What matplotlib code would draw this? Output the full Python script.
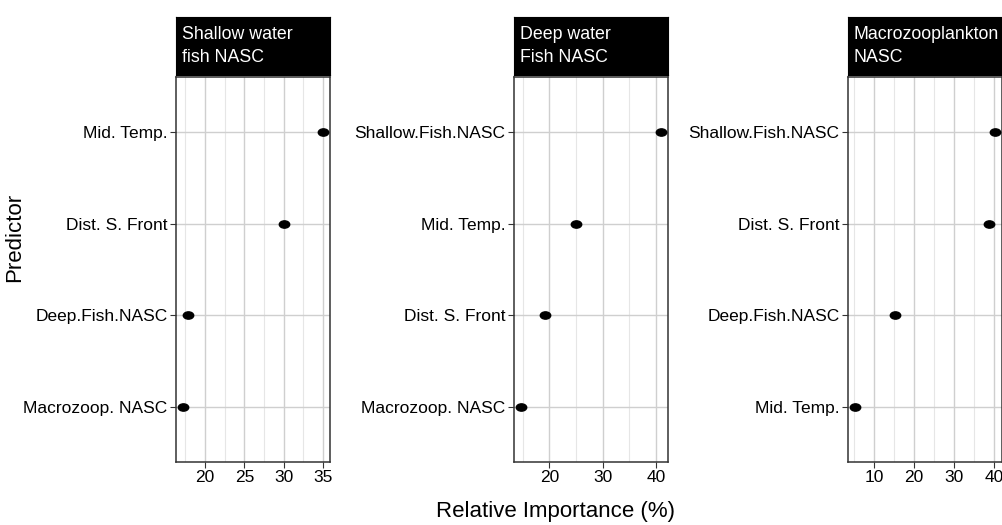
import numpy as np
import matplotlib.pyplot as plt
from matplotlib.path import Path
from matplotlib.transforms import Affine2D
from matplotlib.ticker import MultipleLocator

plt.rcParams['font.family'] = ['Liberation Sans', 'DejaVu Sans']

# data: one list of predictors and importances per response (top -> bottom)
titles = ["Shallow water\nfish NASC", "Deep water\nFish NASC", "Macrozooplankton\nNASC"]

pred_shallow = ["Mid. Temp.", "Dist. S. Front", "Deep.Fish.NASC", "Macrozoop. NASC"]
imp_shallow = [35.0, 30.0, 17.8, 17.2]

pred_deep = ["Shallow.Fish.NASC", "Mid. Temp.", "Dist. S. Front", "Macrozoop. NASC"]
imp_deep = [40.9, 24.9, 19.2, 14.7]

pred_macro = ["Shallow.Fish.NASC", "Dist. S. Front", "Deep.Fish.NASC", "Mid. Temp."]
imp_macro = [40.3, 38.7, 15.3, 5.2]

panels = [(pred_shallow, imp_shallow, 5), (pred_deep, imp_deep, 10), (pred_macro, imp_macro, 10)]

# slightly flattened dot, like in the original
circ = Path.unit_circle()
ellipse = circ.transformed(Affine2D().scale(1.0, 0.7))

fig = plt.figure(figsize=(10.03, 5.25), dpi=100)
lefts = [176, 514, 848]
width = 154
bottom, top = 462, 77
W, H = 1003, 525

for left, title, (preds, imps, step) in zip(lefts, titles, panels):
    ax = fig.add_axes([left / W, 1 - bottom / H, width / W, (bottom - top) / H])
    n = len(preds)
    ypos = np.arange(n)[::-1] + 1
    ax.plot(imps, ypos, linestyle='none', marker=ellipse, color='black', markersize=7.5, zorder=3)
    ax.set_ylim(0.4, n + 0.6)
    ax.set_yticks(ypos)
    ax.set_yticklabels(preds, fontsize=12.5)
    lo, hi = min(imps), max(imps)
    pad = (hi - lo) * 0.05
    ax.set_xlim(lo - pad, hi + pad)
    ax.xaxis.set_major_locator(MultipleLocator(step))
    ax.xaxis.set_minor_locator(MultipleLocator(step / 2))
    ax.grid(True, which='major', color='#cfcfcf', linewidth=1)
    ax.grid(True, which='minor', axis='x', color='#e6e6e6', linewidth=0.8)
    ax.set_axisbelow(True)
    ax.tick_params(axis='x', labelsize=12.5, length=4, color='#333333', pad=2)
    ax.tick_params(axis='y', length=4, color='#333333', pad=2)
    ax.tick_params(which='minor', length=0)
    for s in ax.spines.values():
        s.set_color('#333333')
        s.set_linewidth(1.1)

    # strip header
    sax = fig.add_axes([left / W, 1 - 75 / H, width / W, 58 / H])
    sax.set_facecolor('black')
    sax.set_xticks([])
    sax.set_yticks([])
    sax.text(6 / width, 0.5, title, color='white', fontsize=12.8, ha='left', va='center',
             transform=sax.transAxes, linespacing=1.45)

fig.text(15 / W, 1 - 237 / H, "Predictor", rotation=90, ha='center', va='center', fontsize=16)
fig.text(555 / W, 1 - 512 / H, "Relative Importance (%)", ha='center', va='center', fontsize=16)

plt.savefig("out.png", dpi=100)
